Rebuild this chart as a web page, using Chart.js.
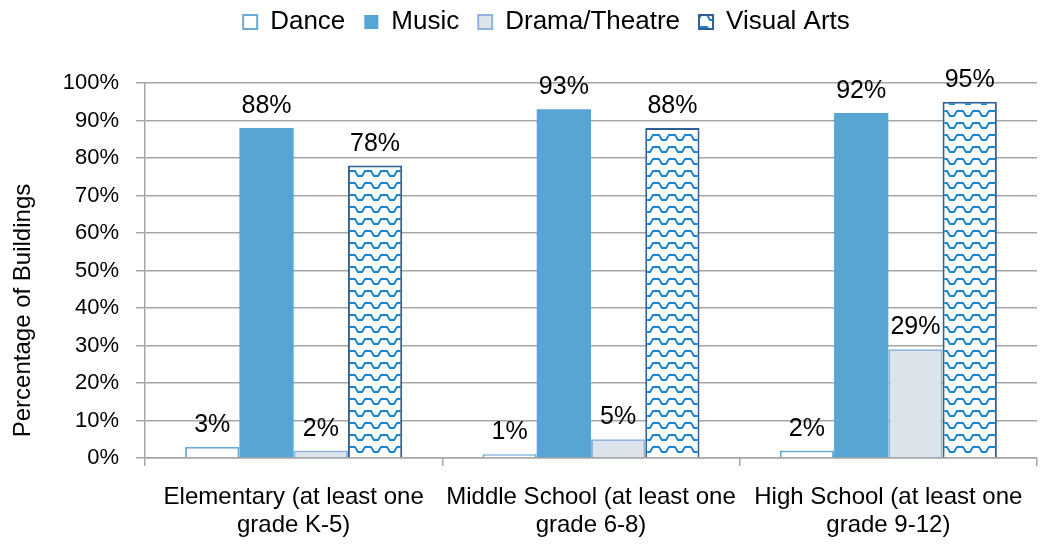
<!DOCTYPE html>
<html>
<head>
<meta charset="utf-8">
<script src="https://cdn.jsdelivr.net/npm/chart.js@4"></script>
<style>
  html, body { margin: 0; padding: 0; background: #fff; }
  #wrap { width: 1040px; height: 544px; }
</style>
</head>
<body>
<div id="wrap"><canvas id="graficoArtes" width="1040" height="544"></canvas></div>
<script>
const categorias = [
    ["Elementary (at least one", "grade K-5)"],
    ["Middle School (at least one", "grade 6-8)"],
    ["High School (at least one", "grade 9-12)"],
];
const valoresDance = [3, 1, 2];
const valoresMusic = [88, 93, 92];
const valoresDrama = [2, 5, 29];
const valoresVisual = [78, 88, 95];
const ticksY = [0, 10, 20, 30, 40, 50, 60, 70, 80, 90, 100];

const fuente = "'Liberation Sans', Arial, sans-serif";

// wavy pattern for Visual Arts
function patronOndas() {
    const c = document.createElement("canvas");
    c.width = 16;
    c.height = 12;
    const g = c.getContext("2d");
    g.fillStyle = "#ffffff";
    g.fillRect(0, 0, 16, 12);
    g.strokeStyle = "#1a86cf";
    g.lineWidth = 2;
    g.beginPath();
    g.moveTo(0, 3);
    g.lineTo(3, 3);
    g.lineTo(6, 8);
    g.lineTo(10, 8);
    g.lineTo(13, 3);
    g.lineTo(16, 3);
    g.stroke();
    return g.createPattern(c, "repeat");
}
const patron = patronOndas();

const etiquetas = {
    id: "etiquetas",
    afterDatasetsDraw(chart) {
        const ctx = chart.ctx;
        ctx.save();
        ctx.font = "25px " + fuente;
        ctx.fillStyle = "#000";
        ctx.textAlign = "center";
        ctx.textBaseline = "alphabetic";
        chart.data.datasets.forEach((ds, i) => {
            chart.getDatasetMeta(i).data.forEach((bar, j) => {
                ctx.fillText(ds.data[j] + "%", bar.x, bar.y - 15);
            });
        });
        ctx.restore();
    },
};

// legend: extra room underneath, nudged up and right
const ajusteLeyenda = {
    id: "ajusteLeyenda",
    afterInit(chart) {
        const leyenda = chart.legend;
        const fit = leyenda.fit;
        leyenda.fit = function () {
            fit.call(this);
            this.height += 28;
        };
    },
    afterLayout(chart) {
        chart.legend.left += 52;
        chart.legend.top -= 10;
    },
};

const dataGrafico = {
    labels: categorias,
    datasets: [
        {
            label: "Dance",
            data: valoresDance,
            backgroundColor: "#ffffff",
            borderColor: "#6aaad6",
            borderWidth: 2,
        },
        {
            label: "Music",
            data: valoresMusic,
            backgroundColor: "#56a5d5",
            borderColor: "#56a5d5",
            borderWidth: 0,
        },
        {
            label: "Drama/Theatre",
            data: valoresDrama,
            backgroundColor: "#dde3ea",
            borderColor: "#8fb5de",
            borderWidth: 2,
        },
        {
            label: "Visual Arts",
            data: valoresVisual,
            backgroundColor: patron,
            borderColor: "#2f5f93",
            borderWidth: 2,
        },
    ],
};

const configGrafico = {
    type: "bar",
    data: dataGrafico,
    plugins: [etiquetas, ajusteLeyenda],
    options: {
        responsive: false,
        maintainAspectRatio: false,
        animation: false,
        layout: { padding: { left: 4, right: 3, top: 0, bottom: 0 } },
        datasets: {
            bar: { categoryPercentage: 0.73, barPercentage: 1.0 },
        },
        plugins: {
            legend: {
                position: "top",
                labels: {
                    boxWidth: 14,
                    boxHeight: 14,
                    padding: 19,
                    color: "#000",
                    font: { size: 26, family: fuente },
                },
            },
            tooltip: { enabled: false },
        },
        scales: {
            x: {
                afterFit: (eje) => {
                    eje.height = 86;
                },
                grid: {
                    display: true,
                    drawOnChartArea: false,
                    drawTicks: true,
                    tickLength: 8,
                    color: "#a6a6a6",
                    lineWidth: 1.5,
                },
                border: { color: "#a6a6a6", width: 1.5 },
                ticks: {
                    color: "#000",
                    padding: 17,
                    maxRotation: 0,
                    font: { size: 24, family: fuente, lineHeight: 1.17 },
                },
            },
            y: {
                min: 0,
                max: 100,
                afterBuildTicks: (eje) => {
                    eje.ticks = ticksY.map((v) => ({ value: v }));
                },
                afterFit: (eje) => {
                    eje.width = 141;
                },
                grid: {
                    color: "#a6a6a6",
                    lineWidth: 1.5,
                    tickLength: 9,
                },
                border: { color: "#a6a6a6", width: 1.5 },
                ticks: {
                    color: "#000",
                    padding: 17,
                    callback: (v) => v + "%",
                    font: { size: 22, family: fuente },
                },
                title: {
                    display: true,
                    // trailing nbsp push the title a bit lower, like the original
                    text: "Percentage of Buildings" + "\u00A0".repeat(12),
                    color: "#000",
                    padding: { top: 5, bottom: 6 },
                    font: { size: 24, family: fuente },
                },
            },
        },
    },
};

const grafico = new Chart(document.getElementById("graficoArtes"), configGrafico);
</script>
</body>
</html>
